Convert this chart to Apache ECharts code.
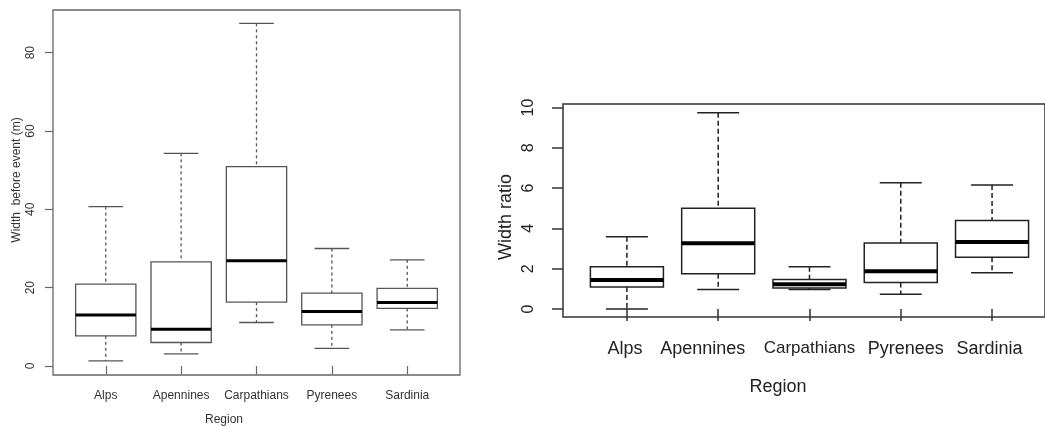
<!DOCTYPE html>
<html>
<head>
<meta charset="utf-8">
<title>Width boxplots</title>
<script src="https://cdn.jsdelivr.net/npm/echarts@6/dist/echarts.min.js"></script>
<style>
  html, body { margin: 0; padding: 0; background: #fff; }
  #main { width: 1045px; height: 427px; }
</style>
</head>
<body>
<div id="main"></div>
<script>
// regions on the x axis
var regions = ['Alps', 'Apennines', 'Carpathians', 'Pyrenees', 'Sardinia'];

// five numbers per region: lower whisker, Q1, median, Q3, upper whisker
var widthBefore = [
  [1.3, 7.7, 13.0, 20.9, 40.7],
  [3.1, 6.0, 9.4, 26.6, 54.3],
  [11.1, 16.3, 26.9, 50.9, 87.5],
  [4.5, 10.5, 13.9, 18.6, 30.0],
  [9.2, 14.7, 16.2, 19.8, 27.1]
];
var widthRatio = [
  [0.0, 1.09, 1.44, 2.09, 3.58],
  [0.96, 1.75, 3.26, 5.0, 9.75],
  [0.97, 1.04, 1.23, 1.46, 2.10],
  [0.73, 1.31, 1.87, 3.28, 6.27],
  [1.80, 2.57, 3.33, 4.39, 6.16]
];

var leftTicks = [0, 20, 40, 60, 80];
var rightTicks = [0, 2, 4, 6, 8, 10];
var catPos = [1, 2, 3, 4, 5];

function toRows(stats) {
  return stats.map(function (s, i) { return [i + 1].concat(s); });
}

// draw one R-style box: dashed whiskers, caps, box, thick median
function boxRenderer(opt) {
  return function (params, api) {
    var x = api.value(0);
    var lo = api.value(1), q1 = api.value(2), md = api.value(3), q3 = api.value(4), hi = api.value(5);
    var c = api.coord([x, md]);
    var bl = api.coord([x - 0.4, q3])[0], br = api.coord([x + 0.4, q3])[0];
    var cl = api.coord([x - 0.23, hi])[0], cr = api.coord([x + 0.23, hi])[0];
    var yLo = api.coord([x, lo])[1], yQ1 = api.coord([x, q1])[1];
    var yMd = c[1], yQ3 = api.coord([x, q3])[1], yHi = api.coord([x, hi])[1];
    var cx = c[0];
    var solid = { stroke: opt.color, lineWidth: opt.lw, fill: null };
    var dashed = { stroke: opt.color, lineWidth: opt.lw, lineDash: opt.dash };
    return {
      type: 'group',
      children: [
        { type: 'line', shape: { x1: cx, y1: yHi, x2: cx, y2: yQ3 }, style: dashed },
        { type: 'line', shape: { x1: cx, y1: yQ1, x2: cx, y2: yLo }, style: dashed },
        { type: 'line', shape: { x1: cl, y1: yHi, x2: cr, y2: yHi }, style: solid },
        { type: 'line', shape: { x1: cl, y1: yLo, x2: cr, y2: yLo }, style: solid },
        { type: 'rect', shape: { x: bl, y: yQ3, width: br - bl, height: yQ1 - yQ3 },
          style: { stroke: opt.color, lineWidth: opt.lw, fill: '#fff' } },
        { type: 'line', shape: { x1: bl, y1: yMd, x2: br, y2: yMd },
          style: { stroke: '#000', lineWidth: opt.mw } }
      ]
    };
  };
}

var font = 'Liberation Sans, Arial, sans-serif';
var chart = echarts.init(document.getElementById('main'));

// the right panel's labels sit a little off their ticks in the original
var rightLabelStyle = ['a', 'b', 'c', 'd', 'e'];
var rightRich = {
  a: { fontSize: 18, fontFamily: font, color: '#222', padding: [0, 4, 0, 0] },
  b: { fontSize: 18, fontFamily: font, color: '#222', padding: [0, 31, 0, 0] },
  c: { fontSize: 17, fontFamily: font, color: '#222' },
  d: { fontSize: 18, fontFamily: font, color: '#222', padding: [0, 0, 0, 10] },
  e: { fontSize: 18, fontFamily: font, color: '#222', padding: [0, 5, 0, 0] }
};

var option = {
  backgroundColor: '#fff',
  animation: false,
  grid: [
    { left: 53, top: 10, width: 407, height: 365, show: true, borderColor: '#666', borderWidth: 1.3 },
    // the right panel runs off the picture's right edge
    { left: 563, top: 104, right: 0, height: 213, show: true, borderColor: '#333', borderWidth: 1.5 }
  ],
  xAxis: [
    {
      type: 'value', gridIndex: 0, min: 0.3, max: 5.7,
      axisLine: { show: false }, splitLine: { show: false },
      axisTick: { show: true, customValues: catPos, length: 8, lineStyle: { color: '#666', width: 1.2 } },
      axisLabel: { customValues: catPos, margin: 15, color: '#333', fontSize: 12, fontFamily: font,
        formatter: function (v) { return regions[Math.round(v) - 1]; } }
    },
    {
      type: 'value', gridIndex: 1, min: 0.3, max: 5.58,
      axisLine: { show: false }, splitLine: { show: false },
      axisTick: { show: true, customValues: catPos, length: 12, lineStyle: { color: '#333', width: 1.5 } },
      axisLabel: { customValues: catPos, margin: 23, color: '#222', fontSize: 18, fontFamily: font,
        rich: rightRich,
        formatter: function (v) {
          var i = Math.round(v) - 1;
          return '{' + rightLabelStyle[i] + '|' + regions[i] + '}';
        } }
    }
  ],
  yAxis: [
    {
      type: 'value', gridIndex: 0, min: -2.3, max: 90.9,
      axisLine: { show: false }, splitLine: { show: false },
      axisTick: { show: true, customValues: leftTicks, length: 8, lineStyle: { color: '#666', width: 1.2 } },
      axisLabel: { customValues: leftTicks, rotate: 90, margin: 16, color: '#333', fontSize: 12, fontFamily: font }
    },
    {
      type: 'value', gridIndex: 1, min: -0.4, max: 10.18,
      axisLine: { show: false }, splitLine: { show: false },
      axisTick: { show: true, customValues: rightTicks, length: 11, lineStyle: { color: '#333', width: 1.5 } },
      axisLabel: { customValues: rightTicks, rotate: 90, margin: 26, color: '#222', fontSize: 16, fontFamily: font }
    }
  ],
  graphic: [
    { type: 'text', x: 17, y: 180, rotation: Math.PI / 2,
      style: { text: 'Width  before event (m)', fill: '#333', font: '12px ' + font, align: 'center', verticalAlign: 'middle' } },
    { type: 'text', x: 224, y: 420,
      style: { text: 'Region', fill: '#333', font: '12px ' + font, align: 'center', verticalAlign: 'middle' } },
    { type: 'text', x: 506, y: 217, rotation: Math.PI / 2,
      style: { text: 'Width ratio', fill: '#222', font: '18px ' + font, align: 'center', verticalAlign: 'middle' } },
    { type: 'text', x: 778, y: 387,
      style: { text: 'Region', fill: '#222', font: '18px ' + font, align: 'center', verticalAlign: 'middle' } }
  ],
  series: [
    {
      type: 'custom', xAxisIndex: 0, yAxisIndex: 0,
      renderItem: boxRenderer({ color: '#555', lw: 1.3, mw: 3, dash: [3, 3] }),
      encode: { x: 0, y: [1, 2, 3, 4, 5] },
      data: toRows(widthBefore)
    },
    {
      type: 'custom', xAxisIndex: 1, yAxisIndex: 1,
      renderItem: boxRenderer({ color: '#222', lw: 1.5, mw: 4, dash: [5, 3] }),
      encode: { x: 0, y: [1, 2, 3, 4, 5] },
      data: toRows(widthRatio)
    }
  ]
};

chart.setOption(option);
</script>
</body>
</html>
